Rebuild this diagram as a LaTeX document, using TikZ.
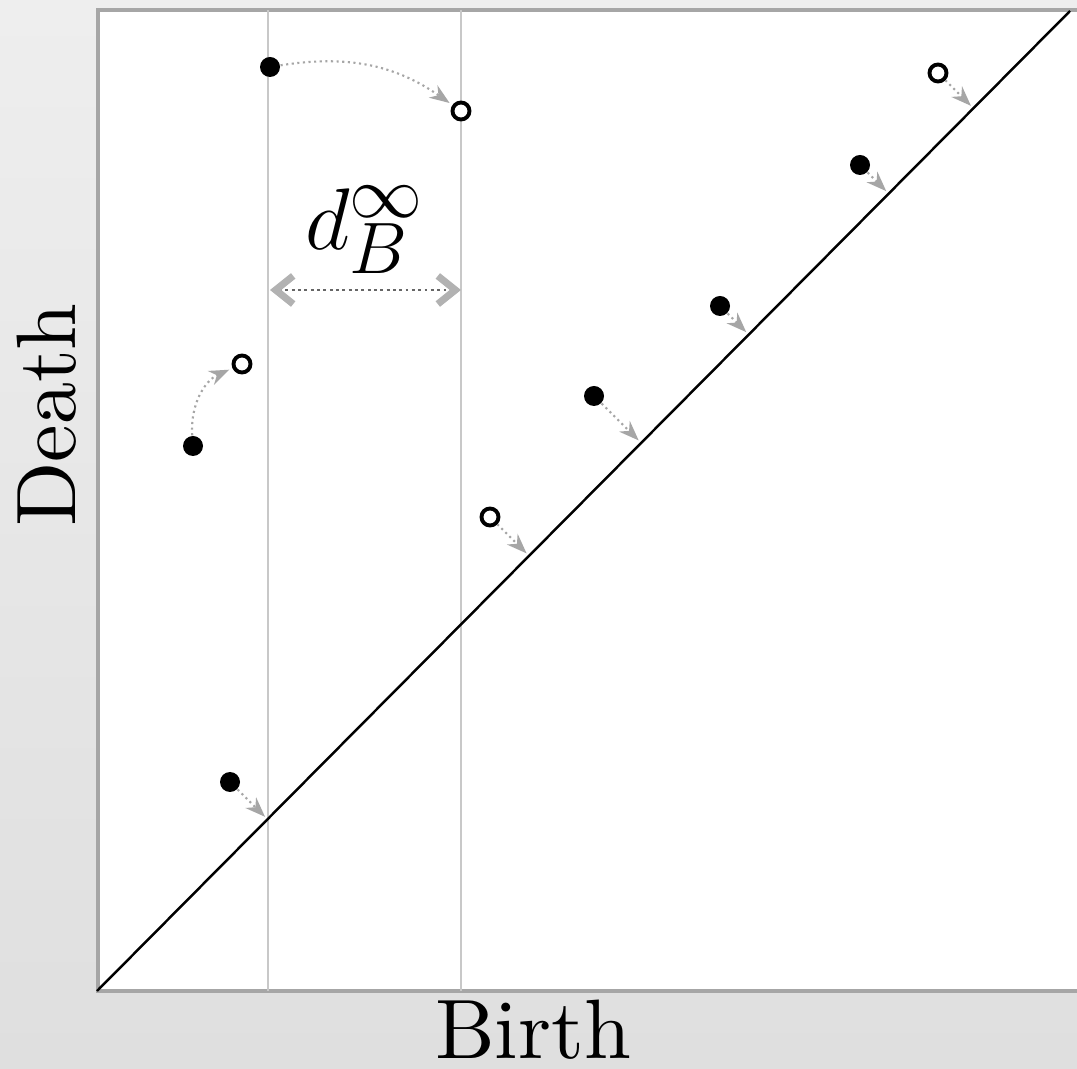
\documentclass[tikz,border=0pt]{standalone}
\usetikzlibrary{arrows.meta,positioning,calc}
\definecolor{bgtop}{HTML}{EEEEEE}
\definecolor{bgbot}{HTML}{DFDFDF}
\definecolor{frame}{HTML}{A6A6A6}
\definecolor{guide}{HTML}{C8C8C8}
\begin{document}
\begin{tikzpicture}[>=Stealth,
  born/.style={circle, fill=black, inner sep=0pt, minimum size=0.2cm},
  hollow/.style={circle, draw=black, line width=1.1pt, fill=white, inner sep=0pt, minimum size=0.17cm},
  match/.style={->, gray!70, densely dotted, line width=0.6pt, shorten >=1pt},
  gap/.style={<->, >={Straight Barb[length=5pt, width=8pt, line width=2pt, color=gray!60]}, densely dotted, line width=0.8pt, gray!80!black},
  big/.style={scale=2.4, inner sep=0pt, anchor=base}]
% background and frame
\useasboundingbox (0,0) rectangle (10.77,10.68);
\shade[top color=bgtop, bottom color=bgbot] (0,0) rectangle (10.77,10.68);
\fill[white] (0.98,0.77) rectangle (10.77,10.58);
\draw[frame, line width=1.2pt] (10.77,10.58) -- (0.98,10.58) -- (0.98,0.77) -- (10.77,0.77);
% guides
\draw[guide, line width=0.6pt] (2.68,0.77) -- (2.68,10.58);
\draw[guide, line width=0.6pt] (4.61,0.77) -- (4.61,10.58);
% diagonal
\coordinate (o) at (0.97,0.77);
\coordinate (e) at (10.70,10.57);
\draw[line width=0.7pt] (o) -- (e);
% diagram points
\node[born] (f1) at (2.70,10.01) {};
\node[hollow] (o1) at (4.61,9.57) {};
\node[born] (f2) at (1.93,6.22) {};
\node[hollow] (o2) at (2.42,7.04) {};
\node[born] (f3) at (2.30,2.86) {};
\node[born] (f4) at (5.94,6.72) {};
\node[born] (f5) at (7.20,7.62) {};
\node[born] (f6) at (8.60,9.03) {};
\node[hollow] (o3) at (4.90,5.51) {};
\node[hollow] (o4) at (9.38,9.95) {};
% matching
\draw[match] (f1) to[bend left=22] (o1);
\draw[match] (f2) to[bend left=35] (o2);
\foreach \p in {f3,f4,f5,f6,o3,o4} {
  \coordinate (\p d) at ($(o)!(\p)!(e)$);
  \draw[match] (\p) -- (\p d);
}
% distance
\coordinate (l) at (2.70,7.78);
\coordinate (r) at (4.61,7.78);
\draw[gap] (l) -- (r);
\node[font=\fontsize{29}{34}\selectfont] (dB) at (3.65,8.38) {$d_B^\infty$};
% axes labels
\node[big, rotate=90] (death) at (0.75,6.53) {Death};
\node[big] (birth) at (5.33,0.10) {Birth};
\end{tikzpicture}
\end{document}
